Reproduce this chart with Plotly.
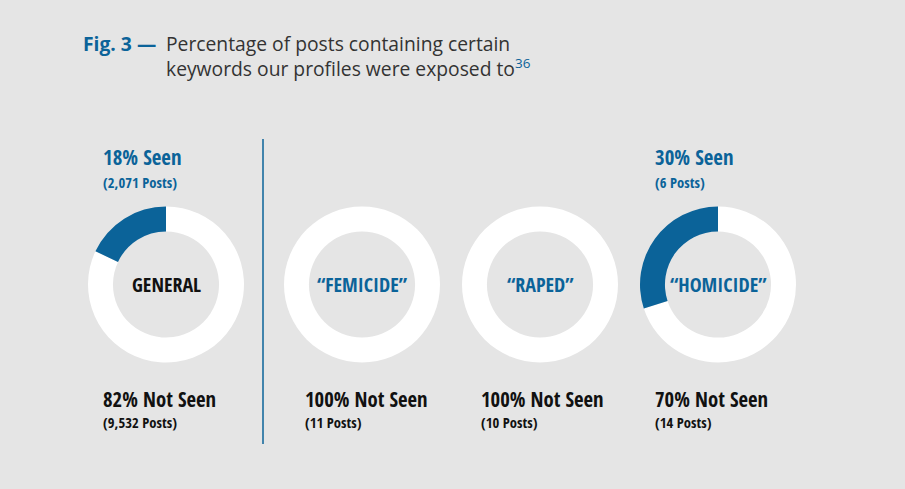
import plotly.graph_objects as go

categories = ["GENERAL", "\u201cFEMICIDE\u201d", "\u201cRAPED\u201d", "\u201cHOMICIDE\u201d"]
seen_pct = [18, 0, 0, 30]
seen_posts = ["2,071", "", "", "6"]
not_seen_pct = [82, 100, 100, 70]
not_seen_posts = ["9,532", "11", "10", "14"]

W, H = 905, 489
BLUE = "#0b6399"
BG = "#e5e5e5"
COND = "Open Sans Condensed, Roboto Condensed, sans-serif"
OPEN = "Open Sans, Noto Sans, sans-serif"

centers_x = [166, 362, 540, 718]
cy = 284.5
R = 78
label_x = [101, 303, 479, 653]

fig = go.Figure()
annotations = []
for i, cat in enumerate(categories):
    cx = centers_x[i]
    fig.add_trace(go.Pie(
        values=[not_seen_pct[i], seen_pct[i]],
        labels=["Not Seen", "Seen"],
        marker=dict(colors=["#ffffff", BLUE], line=dict(width=0)),
        hole=0.68,
        sort=False,
        direction="counterclockwise",
        rotation=0,
        textinfo="none",
        hoverinfo="label+percent",
        showlegend=False,
        domain=dict(x=[(cx - R) / W, (cx + R) / W], y=[1 - (cy + R) / H, 1 - (cy - R) / H]),
    ))
    annotations.append(dict(
        x=cx / W, y=1 - cy / H, xref="paper", yref="paper", text="<b>%s</b>" % cat,
        showarrow=False, xanchor="center", yanchor="middle",
        font=dict(family=COND, size=20, color="#111111" if i == 0 else BLUE)))
    if seen_pct[i] > 0:
        annotations.append(dict(
            x=label_x[i] / W, y=1 - 157.5 / H, xref="paper", yref="paper",
            text="<b>%d%% Seen</b>" % seen_pct[i], showarrow=False,
            xanchor="left", yanchor="middle",
            font=dict(family=COND, size=20.8, color=BLUE)))
        annotations.append(dict(
            x=label_x[i] / W, y=1 - 181.5 / H, xref="paper", yref="paper",
            text="<b>(%s Posts)</b>" % seen_posts[i], showarrow=False,
            xanchor="left", yanchor="middle",
            font=dict(family=COND, size=14.6, color=BLUE)))
    annotations.append(dict(
        x=label_x[i] / W, y=1 - 398.5 / H, xref="paper", yref="paper",
        text="<b>%d%% Not Seen</b>" % not_seen_pct[i], showarrow=False,
        xanchor="left", yanchor="middle",
        font=dict(family=COND, size=20.7, color="#111111")))
    annotations.append(dict(
        x=label_x[i] / W, y=1 - 422 / H, xref="paper", yref="paper",
        text="<b>(%s Posts)</b>" % not_seen_posts[i], showarrow=False,
        xanchor="left", yanchor="middle",
        font=dict(family=COND, size=14.6, color="#111111")))

# Title
annotations.append(dict(
    x=81 / W, y=1 - 44 / H, xref="paper", yref="paper",
    text="<b>Fig. 3 \u2014</b>", showarrow=False, xanchor="left", yanchor="middle",
    font=dict(family=OPEN, size=19.3, color=BLUE)))
annotations.append(dict(
    x=164 / W, y=1 - 56 / H, xref="paper", yref="paper",
    text="Percentage of posts containing certain<br>keywords our profiles were exposed to<sup><span style='color:%s'>36</span></sup>" % BLUE,
    showarrow=False, xanchor="left", yanchor="middle", align="left",
    font=dict(family=OPEN, size=19.3, color="#333333")))

fig.update_layout(
    width=W, height=H,
    margin=dict(l=0, r=0, t=0, b=0),
    paper_bgcolor=BG, plot_bgcolor=BG,
    annotations=annotations,
    shapes=[dict(type="line", xref="paper", yref="paper",
                 x0=263 / W, x1=263 / W, y0=1 - 139 / H, y1=1 - 444 / H,
                 line=dict(color=BLUE, width=1.5))],
)

fig.write_html("out.html", config={"displayModeBar": False},
               post_script="document.body.style.margin='0';document.body.style.background='%s';" % BG)
